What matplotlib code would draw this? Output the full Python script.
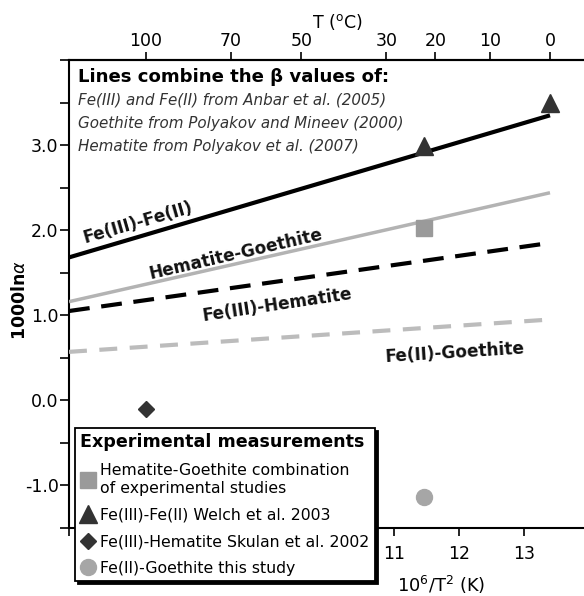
import numpy as np
import matplotlib
matplotlib.use("Agg")
import matplotlib.pyplot as plt

plt.rcParams['font.family'] = ['DejaVu Sans']
plt.rcParams['axes.unicode_minus'] = False
plt.rcParams['mathtext.fontset'] = 'dejavusans'

# ---------------- data ----------------
line_x = [6.0, 13.40]
fe3_fe2 = [1.68, 3.35]
hem_goe = [1.16, 2.44]
fe3_hem = [1.05, 1.85]
fe2_goe = [0.57, 0.95]

hg_x = [11.46]
hg_y = [2.03]
welch_x = [13.40, 11.46]
welch_y = [3.49, 2.99]
skulan_x = [7.18]
skulan_y = [-0.10]
study_x = [11.46]
study_y = [-1.13]

top_temps = [100, 70, 50, 30, 20, 10, 0]
bottom_ticks = [6, 7, 8, 9, 10, 11, 12, 13]
bottom_labels = ['', '', '', '', '', '11', '12', '13']
y_ticks = [-1.5, -1.0, -0.5, 0.0, 0.5, 1.0, 1.5, 2.0, 2.5, 3.0, 3.5, 4.0]
y_labels = ['', '-1.0', '', '0.0', '', '1.0', '', '2.0', '', '3.0', '', '']

legend_labels = ['Hematite-Goethite combination\nof experimental studies',
                 'Fe(III)-Fe(II) Welch et al. 2003',
                 'Fe(III)-Hematite Skulan et al. 2002',
                 'Fe(II)-Goethite this study']
source_title = 'Lines combine the \u03b2 values of:'
source_lines = ['Fe(III) and Fe(II) from Anbar et al. (2005)',
                'Goethite from Polyakov and Mineev (2000)',
                'Hematite from Polyakov et al. (2007)']

# ---------------- figure ----------------
W, H = 584, 596
fig = plt.figure(figsize=(W / 100, H / 100), dpi=100)
ax_l, ax_t, ax_r, ax_b = 69, 60, 584, 528
ax = fig.add_axes([ax_l / W, 1 - ax_b / H, (ax_r - ax_l) / W, (ax_b - ax_t) / H])
ax.set_xlim(6.0, 6.0 + (ax_r - ax_l) / 65.0)
ax.set_ylim(-1.5, 4.0)


def px(x, y):
    return x / W, 1 - y / H


# lines
ax.plot(line_x, fe3_fe2, color='black', lw=3.0, solid_capstyle='butt', zorder=3)
ax.plot(line_x, hem_goe, color='#b3b3b3', lw=2.5, solid_capstyle='butt', zorder=3)
ax.plot(line_x, fe3_hem, color='black', lw=3.0, dashes=(5.0, 2.8), zorder=3)
ax.plot(line_x, fe2_goe, color='#bcbcbc', lw=3.0, dashes=(4.3, 3.0), zorder=3)

# points
h_sq, = ax.plot(hg_x, hg_y, ls='none', marker='s', ms=11, color='#9a9a9a', zorder=4)
h_tri, = ax.plot(welch_x, welch_y, ls='none', marker='^', ms=13.5, color='#333333', zorder=4)
h_dia, = ax.plot(skulan_x, skulan_y, ls='none', marker='D', ms=8.5, color='#333333', zorder=4)
h_cir, = ax.plot(study_x, study_y, ls='none', marker='o', ms=11.5, color='#a6a6a6', zorder=4)

# line annotations
ann_kw = dict(fontsize=12.2, fontweight='bold', color='#111111', ha='center', va='center',
              rotation_mode='anchor', zorder=5)
ax.text(7.06, 2.09, 'Fe(III)-Fe(II)', rotation=16, **ann_kw)
ax.text(8.57, 1.72, 'Hematite-Goethite', rotation=13, **ann_kw)
ax.text(9.20, 1.12, 'Fe(III)-Hematite', rotation=8.5, **ann_kw)
ax.text(11.94, 0.56, 'Fe(II)-Goethite', rotation=3.5, **ann_kw)

# source text block
fig.text(*px(78, 81.7), source_title, fontsize=13.1, fontweight='bold', va='baseline', ha='left')
for yb, s in zip([104.5, 128, 151.5], source_lines):
    fig.text(*px(78, yb), s, fontsize=10.9, style='italic', color='#333333',
             va='baseline', ha='left')

# spines and ticks
for side in ['left', 'top', 'bottom']:
    ax.spines[side].set_linewidth(1.5)
ax.spines['right'].set_visible(False)
ax.set_yticks(y_ticks)
ax.set_yticklabels(y_labels)
ax.set_xticks(bottom_ticks)
ax.set_xticklabels(bottom_labels)
ax.tick_params(axis='y', direction='out', length=6.5, width=1.2, labelsize=12.5, pad=1)
ax.tick_params(axis='x', direction='out', length=6, width=1.2, labelsize=12.5, pad=6)


def x_to_T(x):
    x = np.asarray(x, dtype=float)
    with np.errstate(divide='ignore', invalid='ignore'):
        return 1000.0 / np.sqrt(x) - 273.15


def T_to_x(T):
    T = np.asarray(T, dtype=float)
    with np.errstate(divide='ignore', invalid='ignore'):
        return 1e6 / (T + 273.15) ** 2


sec = ax.secondary_xaxis('top', functions=(x_to_T, T_to_x))
sec.set_xticks(top_temps)
sec.set_xticklabels([str(t) for t in top_temps])
sec.tick_params(direction='out', length=6, width=1.2, labelsize=12.5, pad=1.5)
sec.spines['top'].set_linewidth(1.5)
fig.text(*px(337, 22), r'T ($^{\mathrm{o}}$C)', fontsize=12.5, ha='center', va='center')

ax.set_xlabel(r'10$^{6}$/T$^{2}$ (K)', fontsize=12.8)
ax.xaxis.set_label_coords((441 - ax_l) / (ax_r - ax_l), (ax_b - 585) / (ax_b - ax_t))
ax.xaxis.label.set_va('center')

ax.set_ylabel('1000ln$\\alpha$', fontsize=12.5, fontweight='bold')
ax.yaxis.set_label_coords((20 - ax_l) / (ax_r - ax_l), (ax_b - 300) / (ax_b - ax_t))
ax.yaxis.label.set_va('center')

# legend
leg = ax.legend(handles=[h_sq, h_tri, h_dia, h_cir], labels=legend_labels,
                loc='upper left',
                bbox_to_anchor=((75 - ax_l) / (ax_r - ax_l), (ax_b - 428) / (ax_b - ax_t)),
                borderaxespad=0, title='Experimental measurements',
                title_fontproperties={'weight': 'bold', 'size': 12.6},
                alignment='left', fontsize=11.3, frameon=True, fancybox=False,
                edgecolor='black', framealpha=1,
                shadow={'facecolor': 'black', 'edgecolor': 'black', 'alpha': 1},
                handlelength=0.9, handletextpad=0.35, borderpad=0.35,
                labelspacing=0.75, numpoints=1)
leg.get_frame().set_linewidth(1.3)
leg.set_zorder(10)

fig.savefig('out.png', dpi=100)
